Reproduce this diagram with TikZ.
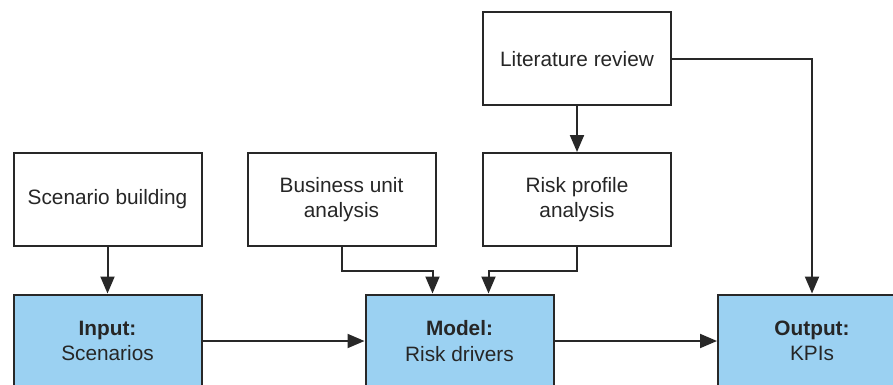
\documentclass[tikz,border=0pt]{standalone}
\usepackage{fontspec}
\setmainfont{Liberation Sans}
\usepackage{xcolor}
\usetikzlibrary{arrows.meta}
\definecolor{stageblue}{RGB}{155,209,242}
\definecolor{edgegray}{RGB}{40,40,40}

\begin{document}
\begin{tikzpicture}[x=1pt, y=-1pt,
  box/.style={draw=edgegray, line width=2pt, fill=white, text=black!85,
    minimum width=188pt, minimum height=93pt, align=center,
    font=\fontsize{20.8}{25.5}\selectfont},
  stage/.style={box, fill=stageblue},
  arr/.style={draw=edgegray, line width=2pt, -{Triangle[length=17pt,width=14pt]}}]
\useasboundingbox (0, 0) rectangle (893, 385);
\clip (0, 0) rectangle (893, 385);
\fill [white] (0, 0) rectangle (893, 385);

\node [box]   (lit)   at (577, 59)    {Literature review};
\node [box]   (scen)  at (107.5, 199.5) {Scenario building};
\node [box]   (bu)    at (341.5, 199.5) {Business unit\\analysis};
\node [box]   (risk)  at (577, 199.5)   {Risk profile\\analysis};

\node [stage] (input)  at (107.5, 341) {\textbf{Input:}\\Scenarios};
\node [stage] (model)  at (459.5, 341) {\textbf{Model:}\\Risk drivers};
\node [stage] (output) at (812, 341)   {\textbf{Output:}\\KPIs};

\draw [arr] (lit) -- (risk);
\draw [arr] (scen) -- (input);
\draw [arr] (lit.east) -| (output.north);
\draw [arr] (bu.south) -- ++(0, 24) -| ([xshift=-27pt]model.north);
\draw [arr] (risk.south) -- ++(0, 24) -| ([xshift=29pt]model.north);
\draw [arr] (input) -- (model);
\draw [arr] (model) -- (output);
\end{tikzpicture}
\end{document}
